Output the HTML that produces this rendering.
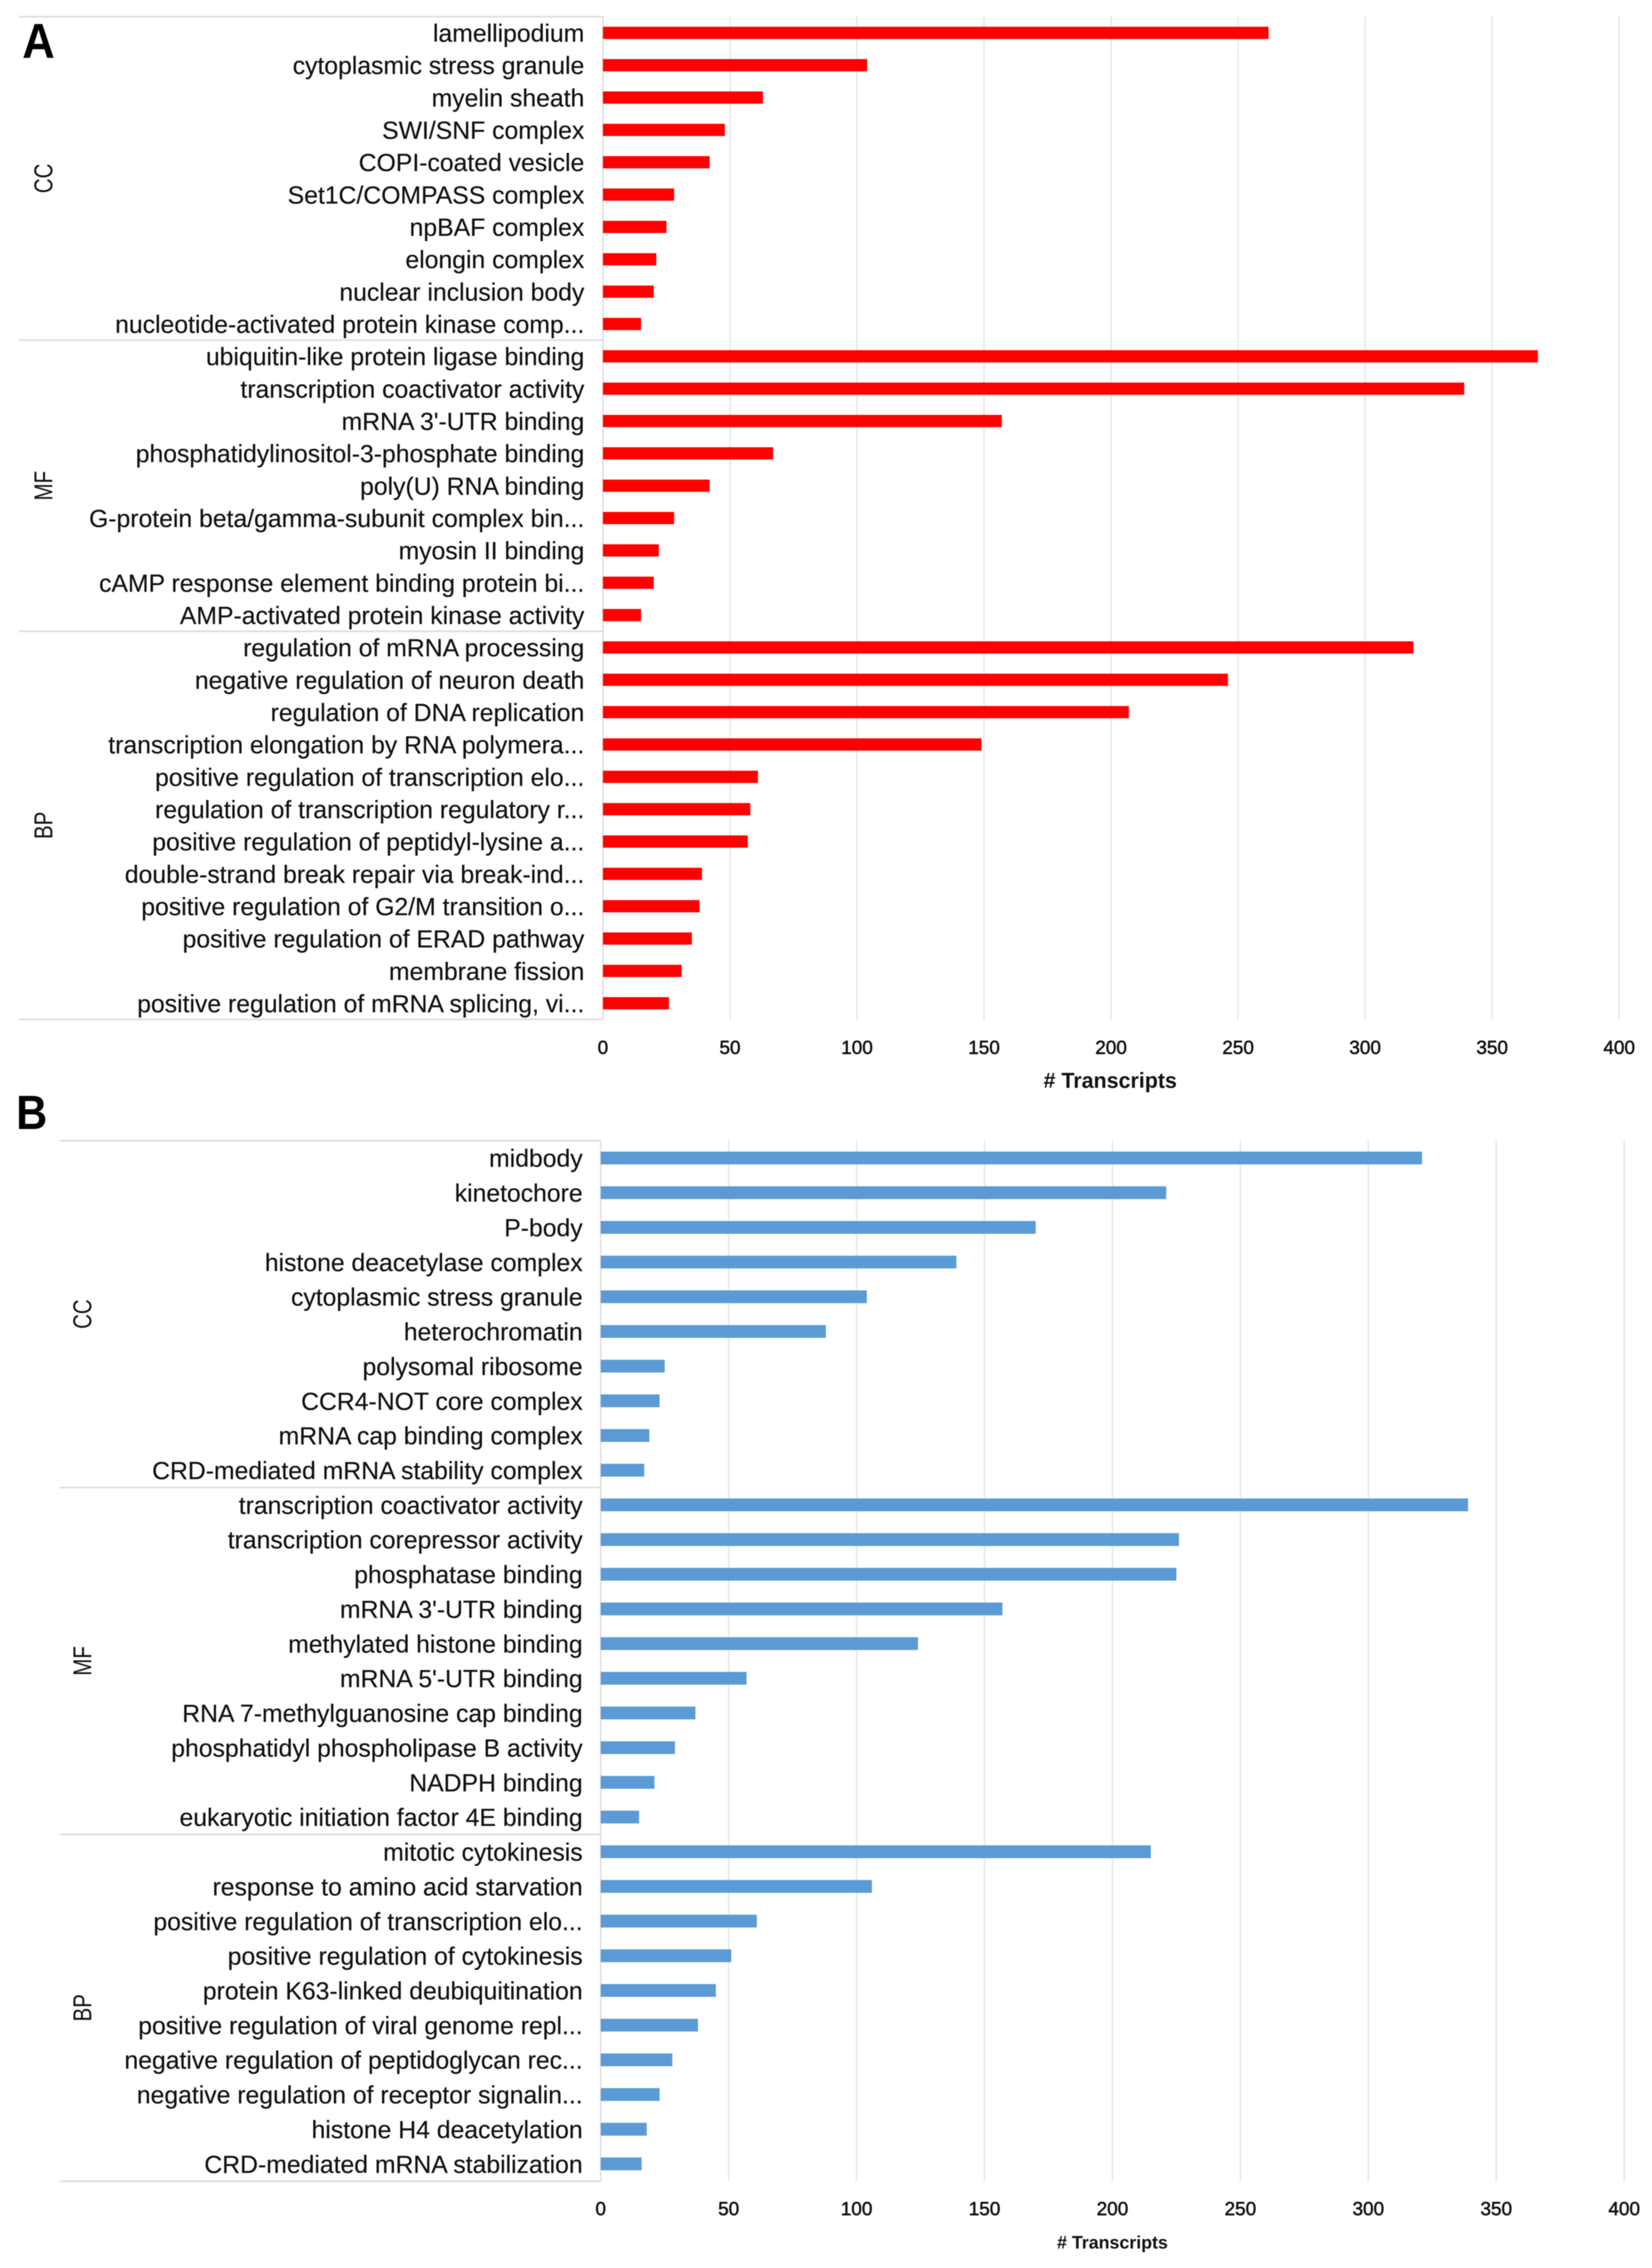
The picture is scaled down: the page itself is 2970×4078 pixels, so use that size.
<!DOCTYPE html>
<html lang="en">
<head>
<meta charset="utf-8">
<title>GO enrichment of transcripts, panels A and B</title>
<style>
html,body{margin:0;padding:0;background:#fff;}
body{width:2970px;height:4078px;overflow:hidden;}
svg{display:block;filter:blur(0.7px);}
text{font-family:"Liberation Sans",sans-serif;fill:#111;}
.cat{font-size:44.5px;text-anchor:end;stroke:#111;stroke-width:.3px;}
.tick{font-size:34px;text-anchor:middle;stroke:#111;stroke-width:.9px;}
.ttl{font-weight:bold;text-anchor:middle;}
.panel{font-weight:bold;fill:#000;}
</style>
</head>
<body>
<svg id="figure" xmlns="http://www.w3.org/2000/svg" width="2970" height="4078" viewBox="0 0 2970 4078">
<rect width="2970" height="4078" fill="#fff"/>
<text class="panel" font-size="88" transform="translate(40,104) scale(.92,1)">A</text>
<text class="panel" font-size="86" transform="translate(29,2030) scale(.9,1)">B</text>
</svg>
<script>
const groupNames = ["CC", "MF", "BP"];
const tickLabels = [0, 50, 100, 150, 200, 250, 300, 350, 400];

const categoriesA = [
  "lamellipodium","cytoplasmic stress granule","myelin sheath","SWI/SNF complex","COPI-coated vesicle",
  "Set1C/COMPASS complex","npBAF complex","elongin complex","nuclear inclusion body","nucleotide-activated protein kinase comp...",
  "ubiquitin-like protein ligase binding","transcription coactivator activity","mRNA 3'-UTR binding","phosphatidylinositol-3-phosphate binding","poly(U) RNA binding",
  "G-protein beta/gamma-subunit complex bin...","myosin II binding","cAMP response element binding protein bi...","AMP-activated protein kinase activity",
  "regulation of mRNA processing","negative regulation of neuron death","regulation of DNA replication","transcription elongation by RNA polymera...","positive regulation of transcription elo...",
  "regulation of transcription regulatory r...","positive regulation of peptidyl-lysine a...","double-strand break repair via break-ind...","positive regulation of G2/M transition o...","positive regulation of ERAD pathway",
  "membrane fission","positive regulation of mRNA splicing, vi..."
];
const valuesA = [262,104,63,48,42,28,25,21,20,15,368,339,157,67,42,28,22,20,15,319,246,207,149,61,58,57,39,38,35,31,26];
const groupSizesA = [10, 9, 12];

const categoriesB = [
  "midbody","kinetochore","P-body","histone deacetylase complex","cytoplasmic stress granule",
  "heterochromatin","polysomal ribosome","CCR4-NOT core complex","mRNA cap binding complex","CRD-mediated mRNA stability complex",
  "transcription coactivator activity","transcription corepressor activity","phosphatase binding","mRNA 3'-UTR binding","methylated histone binding",
  "mRNA 5'-UTR binding","RNA 7-methylguanosine cap binding","phosphatidyl phospholipase B activity","NADPH binding","eukaryotic initiation factor 4E binding",
  "mitotic cytokinesis","response to amino acid starvation","positive regulation of transcription elo...","positive regulation of cytokinesis","protein K63-linked deubiquitination",
  "positive regulation of viral genome repl...","negative regulation of peptidoglycan rec...","negative regulation of receptor signalin...","histone H4 deacetylation","CRD-mediated mRNA stabilization"
];
const valuesB = [321,221,170,139,104,88,25,23,19,17,339,226,225,157,124,57,37,29,21,15,215,106,61,51,45,38,28,23,18,16];
const groupSizesB = [10, 10, 10];

const NS = "http://www.w3.org/2000/svg";
const figure = document.getElementById("figure");

function make(tag, attrs, parent) {
  const el = document.createElementNS(NS, tag);
  for (const k in attrs) el.setAttribute(k, attrs[k]);
  parent.appendChild(el);
  return el;
}

function drawPanel(id, categories, values, groupSizes, L) {
  const g = make("g", {}, figure);
  
  

  const xScale = v => L.x0 + v * L.perUnit;
  const rowH = (L.bottom - L.top) / categories.length;
  const yTop = i => L.top + i * rowH;
  const yMid = i => L.top + (i + 0.5) * rowH;

  tickLabels.forEach(t => {
    const grid = make("line", {x1: xScale(t), x2: xScale(t), y1: L.top, y2: L.bottom, stroke: "#e4e4e4", "stroke-width": 2.5}, g);
    
    
    const lab = make("text", {class: "tick", x: xScale(t), y: L.tickY}, g);
    lab.textContent = t;
    
    
  });

  const axis = make("line", {x1: L.x0, x2: L.x0, y1: L.top, y2: L.bottom, stroke: "#dedede", "stroke-width": 2.5}, g);
  
  

  let start = 0;
  const boundaries = [0];
  groupSizes.forEach((size, gi) => {
    const mid = yTop(start + size / 2);
    const lab = make("text", {"font-size": 46, "text-anchor": "middle", transform: "translate(" + L.groupX + "," + mid + ") rotate(-90) scale(.8,1)"}, g);
    lab.textContent = groupNames[gi];
    
    
    start += size;
    boundaries.push(start);
  });
  boundaries.forEach(b => {
    const sep = make("line", {x1: L.left, x2: L.x0, y1: yTop(b), y2: yTop(b), stroke: "#dedede", "stroke-width": 3}, g);
    
    
  });

  categories.forEach((c, i) => {
    const lab = make("text", {class: "cat", x: L.labelX, y: yMid(i) + 16}, g);
    lab.textContent = c;
    
    
    const bar = make("rect", {x: xScale(0), y: yMid(i) - L.barH / 2, width: xScale(values[i]) - xScale(0), height: L.barH, fill: L.color}, g);
    
    
  });

  const title = make("text", {class: "ttl", x: L.titleX, y: L.titleY, "font-size": L.titleSize}, g);
  title.textContent = "# Transcripts";
  
  
}

drawPanel("a", categoriesA, valuesA, groupSizesA, {
  x0: 1084, perUnit: 4.5675, top: 30, bottom: 1833, left: 34, labelX: 1050.5, groupX: 94,
  barH: 22, color: "#ff0000", tickY: 1895, titleX: 1996, titleY: 1956, titleSize: 38.5
});
drawPanel("b", categoriesB, valuesB, groupSizesB, {
  x0: 1080, perUnit: 4.6, top: 2051, bottom: 3922, left: 107, labelX: 1047.5, groupX: 164,
  barH: 23, color: "#5b9bd5", tickY: 3983, titleX: 2000, titleY: 4043, titleSize: 32
});
</script>
</body>
</html>
